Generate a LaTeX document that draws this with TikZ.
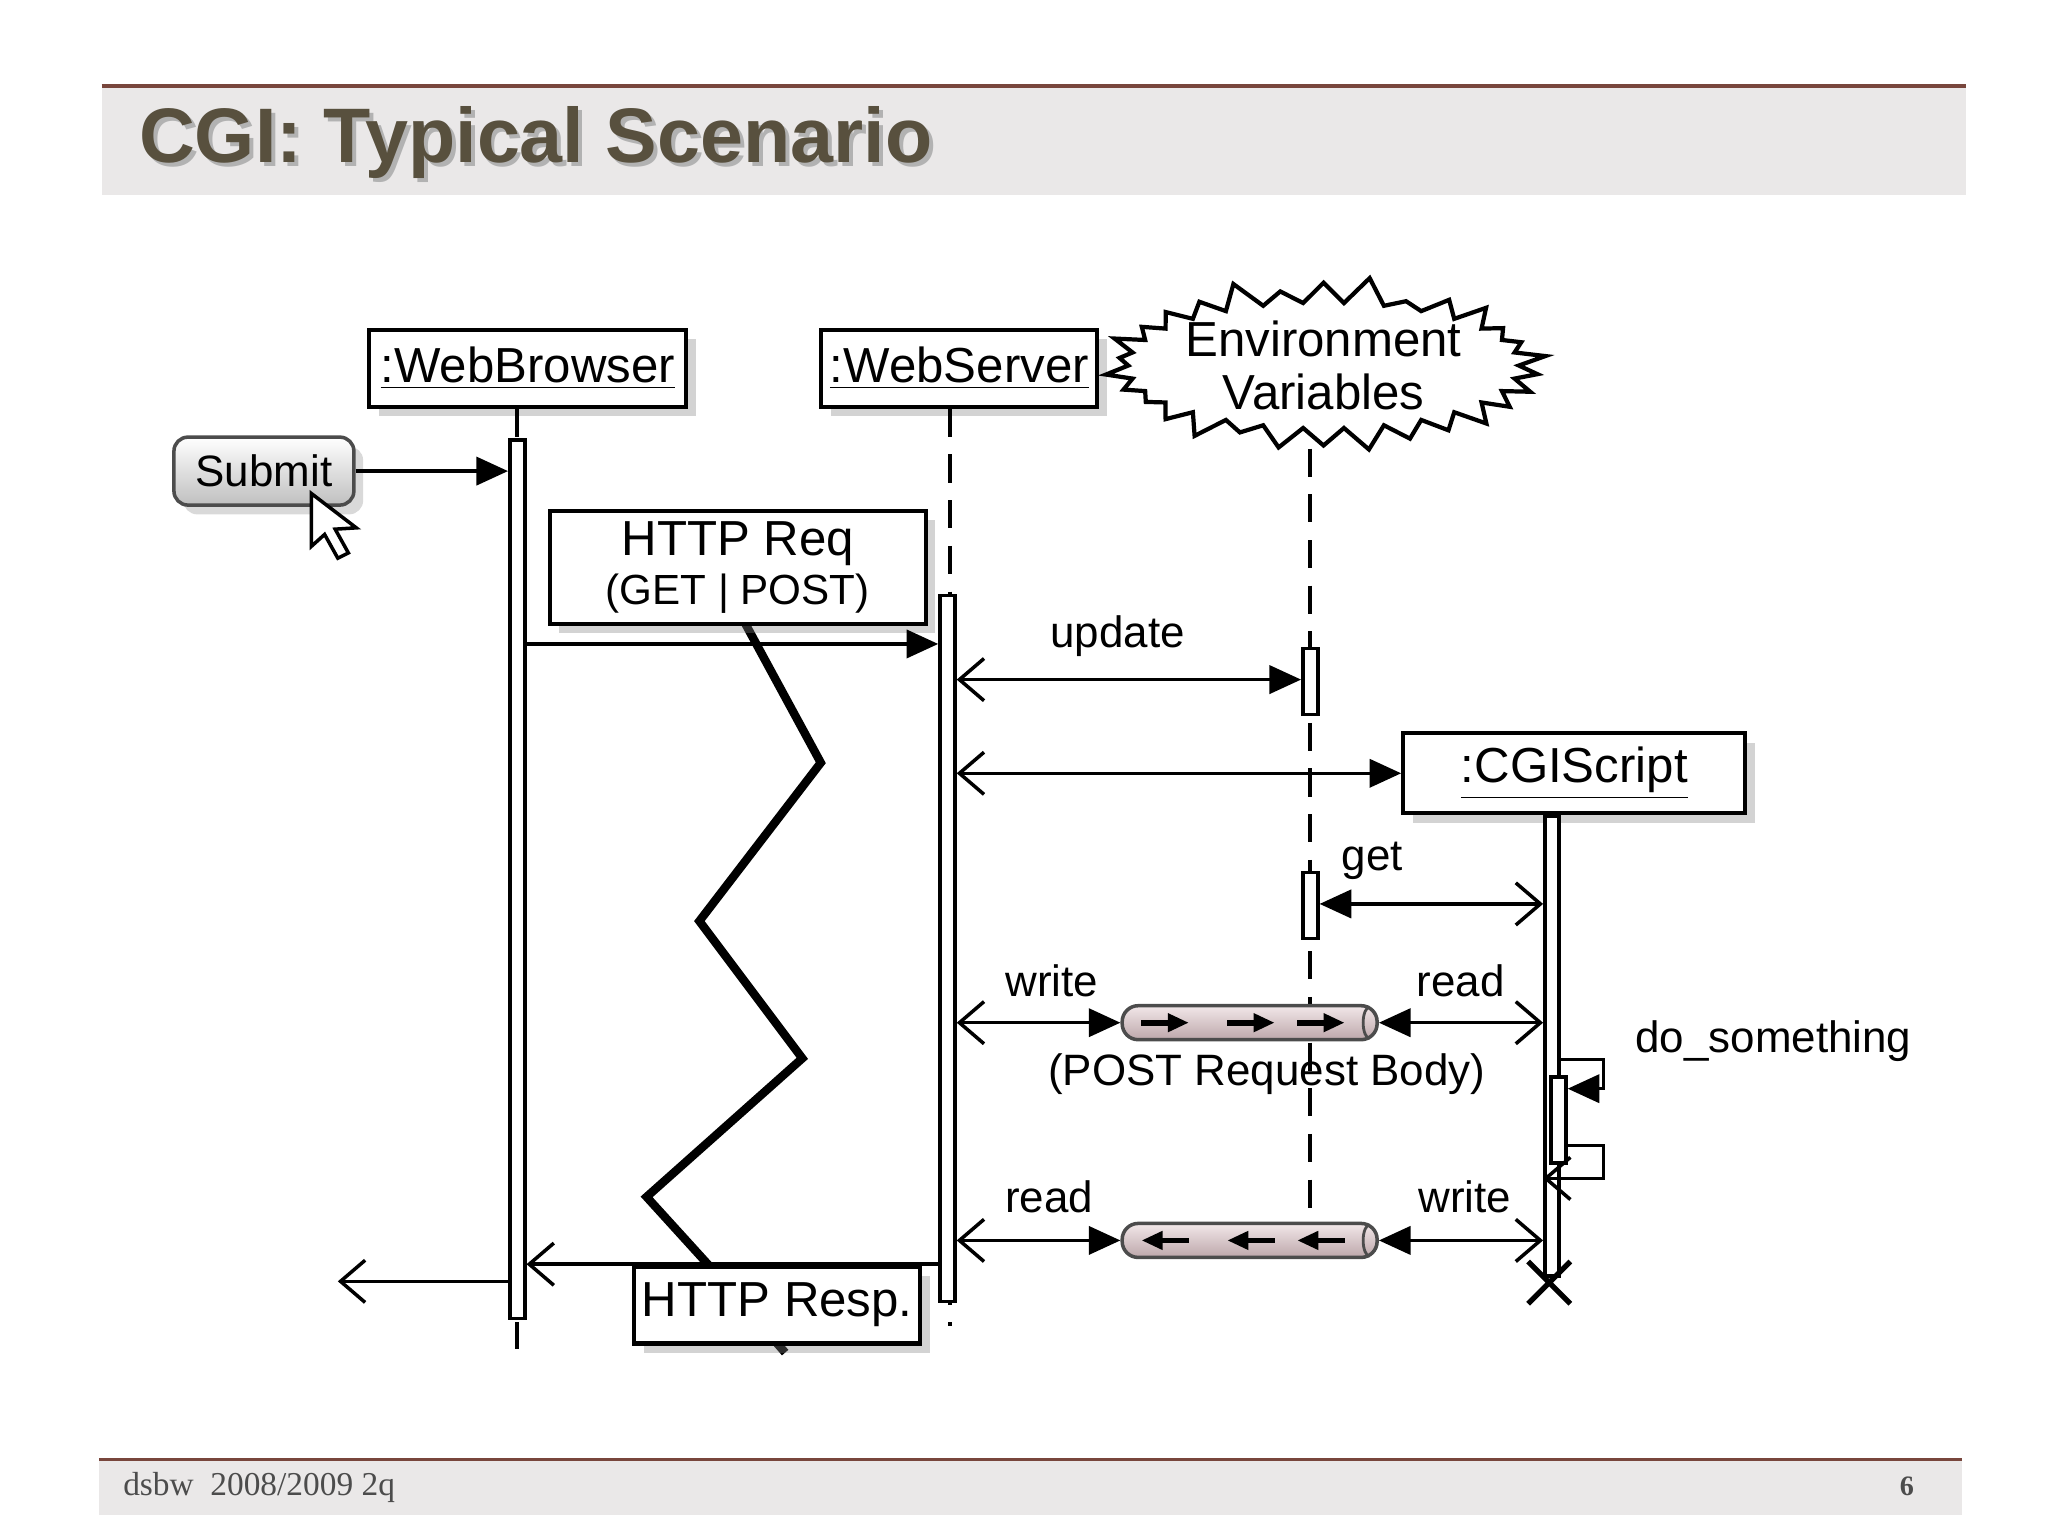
\documentclass[tikz,border=0pt]{standalone}
\usepackage{fontspec}
\setmainfont{Liberation Sans}
\newfontfamily\footfont{Liberation Serif}
\usetikzlibrary{arrows.meta,shapes.geometric,shapes.symbols,shadows}
\definecolor{titlegray}{RGB}{234,232,232}
\definecolor{titletext}{RGB}{88,80,62}
\definecolor{rulered}{RGB}{120,70,60}
\definecolor{pipepink}{RGB}{222,196,200}
\tikzset{
  obj/.style={rectangle, draw, line width=1.2pt, fill=white, drop shadow={opacity=0.35}, inner sep=0pt, font=\fontsize{14}{16}\selectfont},
  bar/.style={rectangle, draw, line width=1pt, fill=white, inner sep=0pt, minimum width=0.15cm, anchor=north},
  life/.style={dashed, line width=1.2pt, dash pattern=on 8pt off 5pt},
  msg/.style={line width=1pt, -{Triangle[length=9pt,width=8pt]}},
  ret/.style={line width=1pt, -{Straight Barb[length=7pt,width=12pt]}},
  both/.style={line width=1pt, {Straight Barb[length=7pt,width=12pt]}-{Triangle[length=9pt,width=8pt]}},
  pipe/.style={rectangle, rounded corners=0.16cm, draw=black!70, line width=1pt, top color=pipepink!40, bottom color=pipepink!85!black, minimum width=2.55cm, minimum height=0.34cm, inner sep=0pt},
  lbl/.style={font=\fontsize{12.5}{14}\selectfont}
}
\begin{document}
\begin{tikzpicture}[x=0.0132cm, y=-0.0132cm]
\useasboundingbox (0,0) rectangle (1552,1164);
% title and footer
\fill[titlegray] (77,65) rectangle (1490,148);
\draw[rulered, line width=1pt] (77,65) -- (1490,65);
\node[font=\fontsize{22}{24}\selectfont\bfseries, text=black!30, anchor=west] at (99,111) {CGI: Typical Scenario};
\node (title) [font=\fontsize{22}{24}\selectfont\bfseries, text=titletext, anchor=west] at (96,108) {CGI: Typical Scenario};
\fill[titlegray] (75,1106) rectangle (1487,1148);
\draw[rulered, line width=1pt] (75,1106) -- (1487,1106);
\node (foot) [font=\footfont\fontsize{9.5}{11}\selectfont, text=black!70, anchor=west] at (84,1127) {dsbw\ \ 2008/2009 2q};
\node (page) [font=\footfont\fontsize{8}{10}\selectfont\bfseries, text=black!70] at (1445,1126) {6};

% objects
\node (browser) [obj, minimum width=3.17cm, minimum height=0.77cm] at (400,279) {\underline{:WebBrowser}};
\node (server) [obj, minimum width=2.76cm, minimum height=0.77cm] at (727,279) {\underline{:WebServer}};
\node (env) [starburst, draw, line width=1.2pt, fill=white, starburst points=30, starburst point height=0.28cm, minimum width=3.5cm, minimum height=1.65cm, align=center, inner sep=0pt, font=\fontsize{14}{15}\selectfont] at (1003,277) {Environment\\Variables};
\node (cgi) [obj, minimum width=3.42cm, minimum height=0.8cm] at (1193,586) {\underline{:CGIScript}};

% lifelines
\draw[life] (browser.south -| 392,0) -- (392,1022);
\draw[life] (server.south -| 720,0) -- (720,1005);
\draw[life] (993,340) -- (993,960);
\node (cgilife) [bar, minimum width=0.14cm, minimum height=4.6cm] at (1176,617) {};
\draw[line width=1.5pt] (1158,956) -- (1190,988) (1158,988) -- (1190,956);

% activation bars
\node (bwbar) [bar, minimum height=8.79cm] at (392,332) {};
\node (svbar) [bar, minimum height=7.06cm] at (718,450) {};
\node (envbar1) [bar, minimum height=0.66cm] at (993,490) {};
\node (envbar2) [bar, minimum height=0.66cm] at (993,660) {};
\node (cgibar) [bar, minimum height=0.86cm] at (1181,815) {};

% submit button and cursor
\node (submit) [rectangle, rounded corners=4pt, draw=black!70, line width=1pt, top color=white, bottom color=black!25, drop shadow={opacity=0.3}, minimum width=1.8cm, minimum height=0.68cm, font=\fontsize{12.5}{14}\selectfont] at (200,357) {Submit};
\draw[line width=1pt, fill=white] (236,374) -- (236,414) -- (246,405) -- (256,423) -- (264,419) -- (254,401) -- (270,400) -- cycle;
\draw[msg] (submit.east) -- (bwbar.west |- submit.east);

% request
\draw[line width=2.4pt] (565,473) -- (622,578) -- (530,698) -- (608,802) -- (490,907) -- (540,962) -- (595,1025);
\node (req) [obj, minimum width=3.76cm, minimum height=1.13cm, align=center] at (559,430) {HTTP Req\\[-2pt]{\fontsize{12}{14}\selectfont(GET | POST)}};
\coordinate (reqy) at (0,488);
\draw[msg] (bwbar.east |- reqy) -- (svbar.west |- reqy);

% update and start cgi
\coordinate (updy) at (0,515);
\draw[both] (svbar.east |- updy) -- (envbar1.west |- updy);
\node (upd) [lbl] at (847,482) {update};
\draw[both] (svbar.east |- cgi.west) -- (cgi.west);

% get
\coordinate (gety) at (0,685);
\draw[both] (cgilife.west |- gety) -- (envbar2.east |- gety);
\node (get) [lbl] at (1040,652) {get};

% pipes
\node (pipein) [pipe] at (947,775) {};
\draw[black!70, line width=0.8pt] (1038,763) arc[start angle=270, end angle=90, x radius=5, y radius=12];
\foreach \x in {865,930,983}
  \draw[line width=1.6pt, -{Triangle[length=6pt,width=5pt]}] (\x,775) -- (\x+36,775);
\draw[both] (svbar.east |- pipein.west) -- (pipein.west);
\draw[both] (cgilife.west |- pipein.east) -- (pipein.east);
\node (w1) [lbl] at (797,743) {write};
\node (r1) [lbl] at (1107,743) {read};
\node (body) [lbl] at (960,814) {(POST Request Body)};

\node (pipeout) [pipe] at (947,940) {};
\draw[black!70, line width=0.8pt] (1038,928) arc[start angle=270, end angle=90, x radius=5, y radius=12];
\foreach \x in {865,930,983}
  \draw[line width=1.6pt, {Triangle[length=6pt,width=5pt]}-] (\x,940) -- (\x+36,940);
\draw[both] (svbar.east |- pipeout.west) -- (pipeout.west);
\draw[both] (cgilife.west |- pipeout.east) -- (pipeout.east);
\node (r2) [lbl] at (795,907) {read};
\node (w2) [lbl] at (1110,907) {write};

% do_something
\coordinate (selfa) at (1215,803);
\coordinate (selfb) at (1215,868);
\draw[line width=1pt, -{Triangle[length=9pt,width=8pt]}] (cgilife.east |- selfa) -- (selfa) -- (1215,825) -- (cgibar.east |- 0,825);
\draw[ret] (cgibar.east |- selfb) -- (selfb) -- (1215,893) -- (cgilife.west |- 0,893);
\node (dosth) [lbl, anchor=west] at (1230,789) {do\_something};

% response
\coordinate (respy) at (0,958);
\draw[ret] (svbar.west |- respy) -- (bwbar.east |- respy);
\node (resp) [obj, minimum width=2.86cm, minimum height=0.77cm] at (589,989) {HTTP Resp.};
\coordinate (outend) at (256,971);
\draw[ret] (bwbar.west |- outend) -- (outend);
\end{tikzpicture}
\end{document}
